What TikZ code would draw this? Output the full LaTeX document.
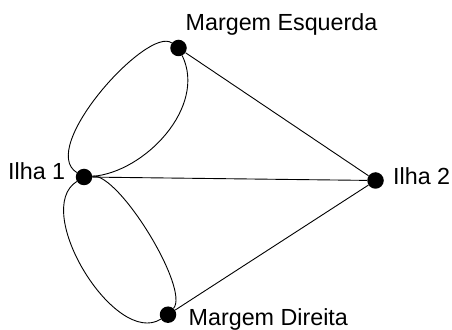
\documentclass[tikz,border=0pt]{standalone}
\usepackage{fontspec}
\setmainfont{Liberation Sans}
\begin{document}
\begin{tikzpicture}[x=1pt,y=1pt,
  vertex/.style={circle,fill=black,inner sep=0pt,minimum size=16.5pt},
  edge/.style={draw=black,line width=0.9pt},
  lbl/.style={anchor=base west,inner sep=0pt,font=\fontsize{23.3}{28}\selectfont}]
\useasboundingbox (0,0) rectangle (452,329);
\node[vertex] (me) at (178.5,281) {};
\node[vertex] (i1) at (84,152) {};
\node[vertex] (i2) at (375.5,148.5) {};
\node[vertex] (md) at (168,14.3) {};
\node[lbl] (lme) at (185.5,298.3) {Margem Esquerda};
\node[lbl] (li1) at (8,149) {Ilha 1};
\node[lbl] (li2) at (393,144) {Ilha 2};
\node[lbl] (lmd) at (188.5,4) {Margem Direita};
\draw[edge] (me) -- (i2);
\draw[edge] (i1) -- (i2);
\draw[edge] (md) -- (i2);
\draw[edge] (i1) .. controls +(-47,29) and +(-30.5,22.7) .. (me);
\draw[edge] (i1) .. controls +(60.8,4.6) and +(28.6,-58.7) .. (me);
\draw[edge] (i1) .. controls +(-53,-33) and +(-53,-33) .. (md);
\draw[edge] (i1) .. controls +(35.1,4.0) and +(22.0,25.3) .. (md);
\end{tikzpicture}
\end{document}
